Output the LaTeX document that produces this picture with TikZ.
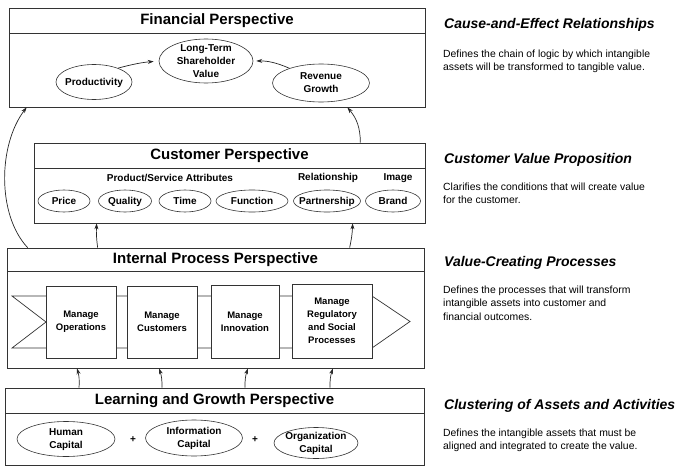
\documentclass[tikz,border=0pt]{standalone}
\usepackage{fontspec}
\setmainfont{Liberation Sans}
\usepackage{tikz}
\usetikzlibrary{arrows.meta}
\usetikzlibrary{shapes.geometric}
\newcommand{\inoval}[1]{\smash{\makebox[0pt]{\raisebox{-3pt}{\begin{tabular}{@{}c@{}}#1\end{tabular}}}}}

\begin{document}
\begin{tikzpicture}[x=1pt, y=-1pt, >={Stealth[length=6pt, width=4pt]},
    frame/.style={rectangle, draw=black!80, line width=0.7pt, inner sep=0},
    band/.style={frame, font=\fontsize{15}{18}\selectfont\bfseries},
    oval/.style={ellipse, draw=black!80, line width=0.6pt, inner sep=0,
      font=\fontsize{10}{13}\selectfont\bfseries},
    procbox/.style={frame, fill=white, align=center,
      font=\fontsize{9.5}{13}\selectfont\bfseries},
    lbl/.style={font=\fontsize{10}{13}\selectfont\bfseries},
    head/.style={inner sep=0, font=\fontsize{14}{16}\selectfont\bfseries\itshape},
    desc/.style={inner sep=0, align=left, font=\fontsize{10.4}{13.5}\selectfont},
    link/.style={->, draw=black!85, line width=0.7pt}]

    \useasboundingbox (0, 0) rectangle (683, 471);

    \node [frame, minimum width=416, minimum height=99] (fin) at (217, 57.5) {};
    \node [band, minimum width=416, minimum height=25, anchor=north] (fint)
    at (fin.north) {Financial Perspective};

    \node [frame, minimum width=391, minimum height=80] (cus) at (229.5, 183) {};
    \node [band, minimum width=391, minimum height=25, anchor=north] (cust)
    at (cus.north) {Customer Perspective};

    \node [frame, minimum width=417, minimum height=120] (ip) at (215.5, 308) {};
    \node [band, minimum width=417, minimum height=23, anchor=north] (ipt)
    at (ip.north) {Internal Process Perspective};

    \node [frame, minimum width=419, minimum height=77] (lg) at (214.5, 426.5) {};
    \node [band, minimum width=419, minimum height=25, anchor=north] (lgt)
    at (lg.north) {Learning and Growth Perspective};

    \node [oval, minimum width=76, minimum height=35] (prod) at (94, 82)
    {\inoval{Productivity}};
    \node [oval, minimum width=94, minimum height=44] (ltsv) at (206, 61)
    {\inoval{Long-Term\\Shareholder\\Value}};
    \node [oval, minimum width=97, minimum height=38] (rev) at (321, 83)
    {\inoval{Revenue\\Growth}};

    \draw [link, shorten >=5pt] (prod.30) to [bend left=5] (ltsv.west);
    \draw [link, shorten >=3pt] (rev.155) to [bend right=12] (ltsv.east);

    \node [lbl] (attr) at (170, 178) {Product/Service Attributes};
    \node [lbl] (rel) at (328, 178) {Relationship};
    \node [lbl] (img) at (398, 178) {Image};

    \node [oval, minimum width=52, minimum height=22] (price) at (64, 201)
    {\inoval{Price}};
    \node [oval, minimum width=53, minimum height=22] (qual) at (125, 201)
    {\inoval{Quality}};
    \node [oval, minimum width=52, minimum height=22] (time) at (185, 201)
    {\inoval{Time}};
    \node [oval, minimum width=72, minimum height=22] (func) at (252, 201)
    {\inoval{Function}};
    \node [oval, minimum width=67, minimum height=22] (part) at (327, 201)
    {\inoval{Partnership}};
    \node [oval, minimum width=55, minimum height=22] (brand) at (393, 201)
    {\inoval{Brand}};

    \draw [black!80, line width=0.7pt] (12, 296) -- (372, 296) -- (410, 321.5)
    -- (372, 348) -- (12, 348) -- (46, 322) -- cycle;

    \node [procbox, minimum width=70, minimum height=72] (mops) at (81, 322)
    {Manage\\Operations};
    \node [procbox, minimum width=70, minimum height=72] (mcus) at (162, 322)
    {Manage\\Customers};
    \node [procbox, minimum width=68, minimum height=73] (minn) at (245, 321.5)
    {Manage\\Innovation};
    \node [procbox, minimum width=80, minimum height=74] (mreg) at (332, 321)
    {Manage\\Regulatory\\and Social\\Processes};

    \node [oval, minimum width=98, minimum height=35] (hum) at (66, 439)
    {\inoval{Human\\Capital}};
    \node [lbl] (plusa) at (133, 440) {+};
    \node [oval, minimum width=97, minimum height=36] (info) at (194, 438)
    {\inoval{Information\\Capital}};
    \node [lbl] (plusb) at (255, 440) {+};
    \node [oval, minimum width=84, minimum height=31] (org) at (316, 443)
    {\inoval{Organization\\Capital}};

    \draw [link] ([xshift=-2pt]lgt.north -| mops) to [bend right=10]
    ([xshift=-4pt]ip.south -| mops);
    \draw [link] (lgt.north -| mcus) to [bend right=10]
    ([xshift=-3pt]ip.south -| mcus);
    \draw [link] (lgt.north -| minn) to [bend left=10]
    ([xshift=3pt]ip.south -| minn);
    \draw [link] ([xshift=-2pt]lgt.north -| mreg) to [bend left=10]
    ([xshift=1pt]ip.south -| mreg);

    \draw [link] ([xshift=91pt]ipt.north west) to [bend left=5]
    ([xshift=63pt]cus.south west);
    \draw [link] ([xshift=343pt]ipt.north west) to [bend right=5]
    ([xshift=319pt]cus.south west);

    \draw [link] ([xshift=-65pt]cust.north east) to [bend right=20]
    ([xshift=-78pt]fin.south east);
    \draw [link] ([xshift=21pt]ipt.north west)
    .. controls (-3, 215) and (-2, 145) .. ([xshift=18pt]fin.south west);

    \node [head, anchor=base west] (ceh) at (444, 28)
    {Cause-and-Effect Relationships};
    \node [desc, anchor=north west] (ced) at (443, 49.5)
    {Defines the chain of logic by which intangible\\
      assets will be transformed to tangible value.};

    \node [head, anchor=base west] (cvh) at (444, 163)
    {Customer Value Proposition};
    \node [desc, anchor=north west] (cvd) at (443, 182.5)
    {Clarifies the conditions that will create value\\
      for the customer.};

    \node [head, anchor=base west] (vch) at (444, 266)
    {Value-Creating Processes};
    \node [desc, anchor=north west] (vcd) at (443, 285.5)
    {Defines the processes that will transform\\
      intangible assets into customer and\\
      financial outcomes.};

    \node [head, anchor=base west] (cah) at (444, 409)
    {Clustering of Assets and Activities};
    \node [desc, anchor=north west] (cad) at (443, 428.5)
    {Defines the intangible assets that must be\\
      aligned and integrated to create the value.};

  \end{tikzpicture}
\end{document}
